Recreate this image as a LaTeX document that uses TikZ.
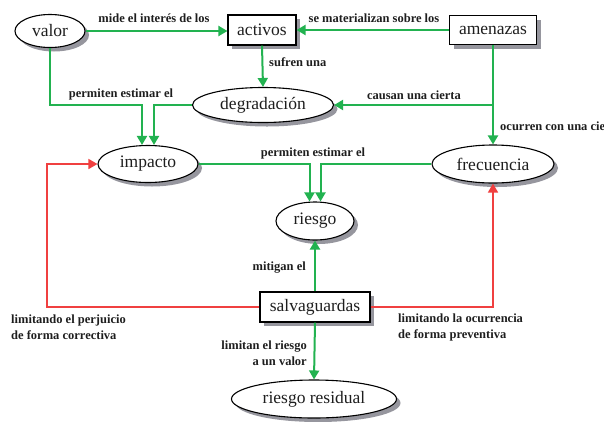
\documentclass[tikz,border=0pt]{standalone}
\usepackage{fontspec}
\setmainfont{Liberation Serif}
\usetikzlibrary{shapes.geometric,shadows,arrows.meta}
\definecolor{gr}{RGB}{34,178,80}
\definecolor{rd}{RGB}{240,64,64}
\definecolor{tx}{RGB}{30,30,30}
\definecolor{sh}{RGB}{150,150,158}
\tikzset{
  shad/.style={drop shadow={shadow xshift=4pt,shadow yshift=-4pt,fill=sh,opacity=1}},
  ell/.style={ellipse,draw=black,line width=1.1pt,fill=white,shad,inner sep=0pt,font=\fontsize{17.5}{20}\selectfont,text=tx},
  box/.style={rectangle,draw=black,line width=1.1pt,fill=white,shad,inner sep=0pt,font=\fontsize{17.5}{20}\selectfont,text=tx},
  glink/.style={draw=gr,line width=2pt,-{Triangle[length=9pt,width=10pt]}},
  rlink/.style={draw=rd,line width=1.6pt,-{Triangle[length=9pt,width=10pt]}},
  lbl/.style={font=\bfseries\fontsize{12.5}{16}\selectfont,text=tx,inner sep=0pt}
}
\begin{document}
\begin{tikzpicture}[x=1pt,y=-1pt]
\useasboundingbox (0,0) rectangle (604,421);
\begin{scope}
\clip (0,0) rectangle (604,421);
% nodes
\node[ell,minimum width=70pt,minimum height=33pt] (valor) at (50,31) {valor};
\node[box,minimum width=68pt,minimum height=30pt] (activos) at (262,30) {activos};
\node[box,minimum width=87pt,minimum height=29pt] (amenazas) at (493,30) {amenazas};
\node[ell,minimum width=141pt,minimum height=35pt] (degradacion) at (263,105) {degradación};
\node[ell,minimum width=100pt,minimum height=37pt] (impacto) at (148,164) {impacto};
\node[ell,minimum width=122pt,minimum height=38pt] (frecuencia) at (493,164) {frecuencia};
\node[ell,minimum width=78pt,minimum height=38pt] (riesgo) at (315,221) {riesgo};
\node[box,minimum width=110pt,minimum height=30pt] (salvaguardas) at (315,307) {salvaguardas};
\node[ell,minimum width=165pt,minimum height=38pt] (residual) at (314,399) {riesgo residual};
% helper coordinates
\coordinate (v1) at (142,105);
\coordinate (d1) at (154,105);
\coordinate (i1) at (309.5,164);
\coordinate (f1) at (320.5,164);
\coordinate (b1) at (493,105);
\coordinate (redL) at (47,0);
% green connectors
\draw[glink] (valor.east) -- (activos.west |- valor.east);
\draw[glink] (amenazas.west) -- (activos.east);
\draw[glink] (activos.south) -- (degradacion.north);
\draw[glink] (amenazas.south) -- (frecuencia.north);
\draw[glink] (b1) -- (degradacion.east);
\draw[glink] (valor.south) |- (v1) -- ([xshift=-6pt]impacto.north);
\draw[glink] (degradacion.west) -- (d1) -- ([xshift=6pt]impacto.north);
\draw[glink] (impacto.east) -- (i1) -- ([xshift=-5.5pt]riesgo.north);
\draw[glink] (frecuencia.west) -- (f1) -- ([xshift=5.5pt]riesgo.north);
\draw[glink] (salvaguardas.north) -- (riesgo.south);
\draw[glink] (salvaguardas.south) -- (residual.north);
% red connectors
\draw[rlink] (salvaguardas.west) -- (salvaguardas.west -| redL) |- (impacto.west);
\draw[rlink] (salvaguardas.east) -| (frecuencia.south);
% labels
\node[lbl] (l1) at (154,18) {mide el interés de los};
\node[lbl] (l2) at (374,18) {se materializan sobre los};
\node[lbl,anchor=west] (l3) at (269,62) {sufren una};
\node[lbl] (l4) at (414,95) {causan una cierta};
\node[lbl,anchor=west] (l5) at (500,126) {ocurren con una cierta};
\node[lbl] (l6) at (121,94) {permiten estimar el};
\node[lbl] (l7) at (313,153) {permiten estimar el};
\node[lbl,anchor=east] (l8) at (306,268) {mitigan el};
\node[lbl,anchor=east,align=right] (l9) at (307,353) {limitan el riesgo\\a un valor};
\node[lbl,anchor=west,align=left] (l10) at (11,327) {limitando el perjuicio\\de forma correctiva};
\node[lbl,anchor=west,align=left] (l11) at (398,327) {limitando la ocurrencia\\de forma preventiva};
\end{scope}
\end{tikzpicture}
\end{document}
